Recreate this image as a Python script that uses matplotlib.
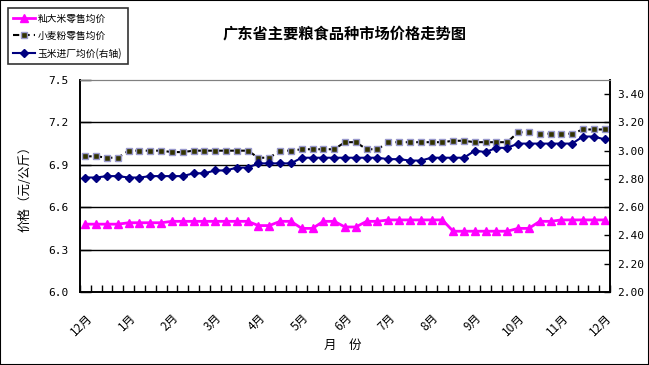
import matplotlib
matplotlib.use("Agg")
import matplotlib.pyplot as plt
from matplotlib.patches import Rectangle
import numpy as np

plt.rcParams['font.family'] = ['Noto Sans CJK SC', 'DejaVu Sans']

# weekly prices, Dec -> Dec (49 points)
rice = [6.48, 6.48, 6.48, 6.48, 6.49, 6.49, 6.49, 6.49, 6.50, 6.50,
        6.50, 6.50, 6.50, 6.50, 6.50, 6.50, 6.47, 6.47, 6.50, 6.50,
        6.45, 6.45, 6.50, 6.50, 6.46, 6.46, 6.50, 6.50, 6.51, 6.51,
        6.51, 6.51, 6.51, 6.51, 6.43, 6.43, 6.43, 6.43, 6.43, 6.43,
        6.45, 6.45, 6.50, 6.50, 6.51, 6.51, 6.51, 6.51, 6.51]
flour = [6.96, 6.96, 6.95, 6.95, 7.00, 7.00, 7.00, 7.00, 6.99, 6.99,
         7.00, 7.00, 7.00, 7.00, 7.00, 7.00, 6.95, 6.95, 7.00, 7.00,
         7.01, 7.01, 7.01, 7.01, 7.06, 7.06, 7.01, 7.01, 7.06, 7.06,
         7.06, 7.06, 7.06, 7.06, 7.07, 7.07, 7.06, 7.06, 7.06, 7.06,
         7.13, 7.13, 7.12, 7.12, 7.12, 7.12, 7.15, 7.15, 7.15]
corn = [2.81, 2.81, 2.82, 2.82, 2.81, 2.81, 2.82, 2.82, 2.82, 2.82,
        2.84, 2.84, 2.86, 2.86, 2.88, 2.88, 2.91, 2.91, 2.91, 2.91,
        2.95, 2.95, 2.95, 2.95, 2.95, 2.95, 2.95, 2.95, 2.94, 2.94,
        2.93, 2.93, 2.95, 2.95, 2.95, 2.95, 3.00, 2.99, 3.02, 3.02,
        3.05, 3.05, 3.05, 3.05, 3.05, 3.05, 3.10, 3.10, 3.08]
month_labels = ["12月", "1月", "2月", "3月", "4月", "5月", "6月",
                "7月", "8月", "9月", "10月", "11月", "12月"]
names = ["籼大米零售均价", "小麦粉零售均价", "玉米进厂均价(右轴)"]

x = np.arange(len(rice))

fig = plt.figure(figsize=(6.49, 3.65), dpi=100)
ax = fig.add_axes([80/649, 1-292/365, 530/649, 212/365])
ax2 = ax.twinx()

l1, = ax.plot(x, rice, color="#FF00FF", lw=2, marker="^", ms=5.5,
              mfc="#FF00FF", mec="#FF00FF", label=names[0])
l2, = ax.plot(x, flour, color="black", lw=1.5, ls=(0, (3, 2)), marker="s", ms=5,
              mfc="#333300", mec="#9999CC", mew=1, label=names[1])
l3, = ax2.plot(x, corn, color="#000080", lw=1.5, marker="D", ms=4,
               mfc="#000080", mec="#000080", label=names[2])

ax.set_xlim(-0.5, len(x) - 0.5)
ax.set_ylim(6.0, 7.5)
ax2.set_ylim(2.0, 3.5)

yt = np.arange(6.0, 7.51, 0.3)
ax.set_yticks(yt)
ax.set_yticklabels(["%.1f" % v for v in yt], family="DejaVu Sans Mono", fontsize=8)
yt2 = np.arange(2.0, 3.41, 0.2)
ax2.set_yticks(yt2)
ax2.set_yticklabels(["%.2f" % v for v in yt2], family="DejaVu Sans Mono", fontsize=8)

for v in yt[1:-1]:
    ax.axhline(v, color="black", lw=1, zorder=0)

ax.set_xticks(x[::4])
ax.set_xticklabels(month_labels, rotation=45, ha="right", va="top",
                   rotation_mode="anchor", fontsize=8.5)
ax.set_xticks(np.arange(-0.5, len(x), 1), minor=True)
ax.tick_params(axis="x", which="major", length=0, pad=14)
ax.tick_params(axis="x", which="minor", direction="in", length=5, width=1)
ax.tick_params(axis="y", direction="in", length=8, width=1, pad=8)
ax2.tick_params(axis="y", direction="in", length=4, width=1, pad=5)

for a in (ax, ax2):
    a.spines["top"].set_color("#808080")
    for s in ("left", "right", "bottom"):
        a.spines[s].set_linewidth(1.2)

ax.set_ylabel("价格（元/公斤）", fontsize=9, labelpad=12)
fig.text(343/649, 1-345/365, "月　份", ha="center", va="center", fontsize=9)
fig.text(345/649, 1-33/365, "广东省主要粮食品种市场价格走势图", ha="center", va="center",
         fontsize=11, fontweight="bold")

leg = fig.legend(handles=[l1, l2, l3], loc="upper left",
                 bbox_to_anchor=(8/649, 1-8/365), fontsize=7,
                 frameon=True, fancybox=False, handlelength=2.2,
                 handletextpad=0.3, labelspacing=0.75, borderpad=0.55,
                 borderaxespad=0)
leg.get_frame().set_edgecolor("black")
leg.get_frame().set_linewidth(1.2)

fig.patches.append(Rectangle((0, 0), 1, 1, transform=fig.transFigure,
                             fill=False, edgecolor="black", lw=1.5))

fig.savefig("out.png", dpi=100)
